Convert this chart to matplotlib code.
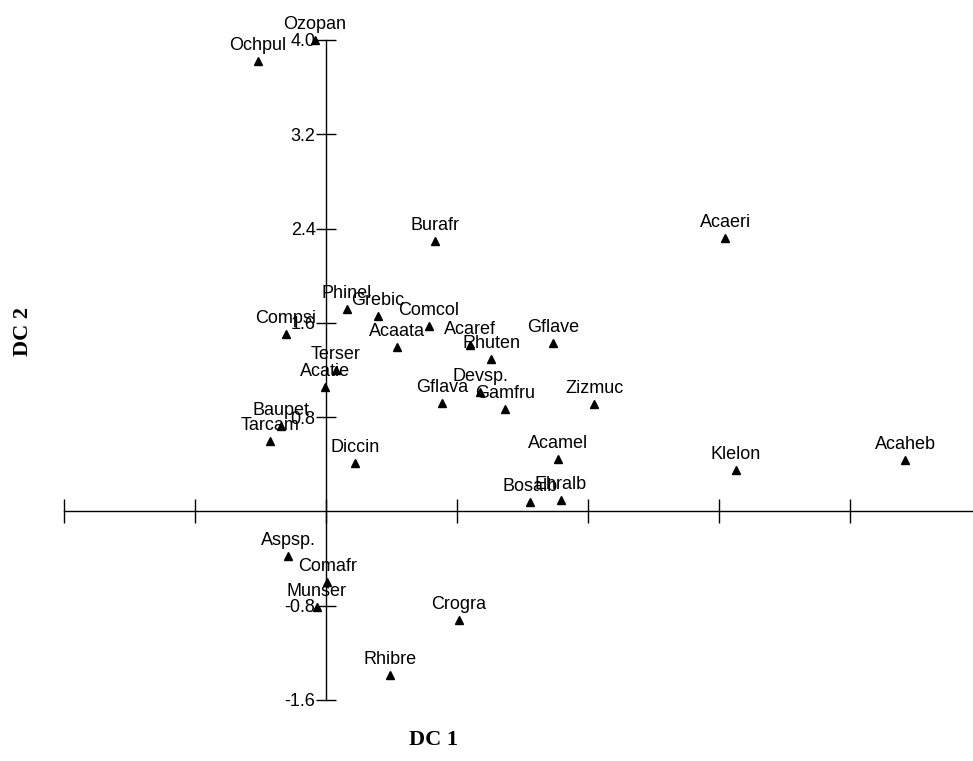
import matplotlib
matplotlib.use("Agg")
import matplotlib.pyplot as plt

# species scores on the first two DCA axes
species = ["Ochpul", "Ozopan", "Burafr", "Acaeri", "Phinel", "Grebic",
           "Compsi", "Comcol", "Acaata", "Acaref", "Rhuten", "Gflave",
           "Terser", "Acatie", "Devsp.", "Gamfru", "Gflava", "Zizmuc",
           "Baupet", "Tarcam", "Diccin", "Acamel", "Klelon", "Acaheb",
           "Bosalb", "Ehralb", "Aspsp.", "Comafr", "Munser", "Crogra",
           "Rhibre"]
dc1 = [-0.519, -0.084, 0.832, 3.046, 0.160, 0.397,
       -0.305, 0.786, 0.542, 1.099, 1.260, 1.733,
       0.076, -0.008, 1.176, 1.366, 0.885, 2.046,
       -0.344, -0.427, 0.221, 1.771, 3.130, 4.420,
       1.557, 1.794, -0.290, 0.008, -0.069, 1.015,
       0.489]
dc2 = [3.822, 4.000, 2.294, 2.320, 1.717, 1.658,
       1.505, 1.573, 1.395, 1.412, 1.293, 1.429,
       1.200, 1.055, 1.013, 0.869, 0.920, 0.911,
       0.725, 0.597, 0.411, 0.445, 0.351, 0.436,
       0.080, 0.097, -0.378, -0.599, -0.811, -0.921,
       -1.388]

yticks = [-1.6, -0.8, 0.8, 1.6, 2.4, 3.2, 4.0]
xticks = [-2, -1, 0, 1, 2, 3, 4]

plt.rcParams['font.family'] = ['Liberation Sans', 'DejaVu Sans']

fig = plt.figure(figsize=(9.73, 7.61), dpi=100)
ax = fig.add_axes([0, 0, 1, 1])
ax.set_xlim(-2.489, 4.939)
ax.set_ylim(-2.118, 4.339)

for side in ['top', 'right']:
    ax.spines[side].set_visible(False)
ax.spines['left'].set_position(('data', 0))
ax.spines['bottom'].set_position(('data', 0))
ax.spines['left'].set_bounds(-1.6, 4.0)
ax.spines['bottom'].set_bounds(-2.0, 4.939)
for side in ['left', 'bottom']:
    ax.spines[side].set_linewidth(1.0)

ax.set_yticks(yticks)
ax.set_yticklabels(['%.1f' % v for v in yticks])
ax.set_xticks(xticks)
ax.set_xticklabels([])
ax.tick_params(axis='y', direction='inout', length=15, width=1.0, pad=0,
               labelsize=13)
ax.tick_params(axis='x', direction='inout', length=17, width=1.0)

ax.plot(dc1, dc2, linestyle='none', marker='^', markersize=6,
        color='black', clip_on=False)
for name, x, y in zip(species, dc1, dc2):
    ax.annotate(name, (x, y), xytext=(0, 8), textcoords='offset points',
                ha='center', va='baseline', fontsize=13)

fig.text(0.446, 0.028, 'DC 1', ha='center', va='center', fontsize=16,
         fontweight='bold', family=['Liberation Serif', 'DejaVu Serif'])
fig.text(0.024, 0.565, 'DC 2', ha='center', va='center', fontsize=16,
         fontweight='bold', rotation=90,
         family=['Liberation Serif', 'DejaVu Serif'])

fig.savefig('out.png', dpi=100)
